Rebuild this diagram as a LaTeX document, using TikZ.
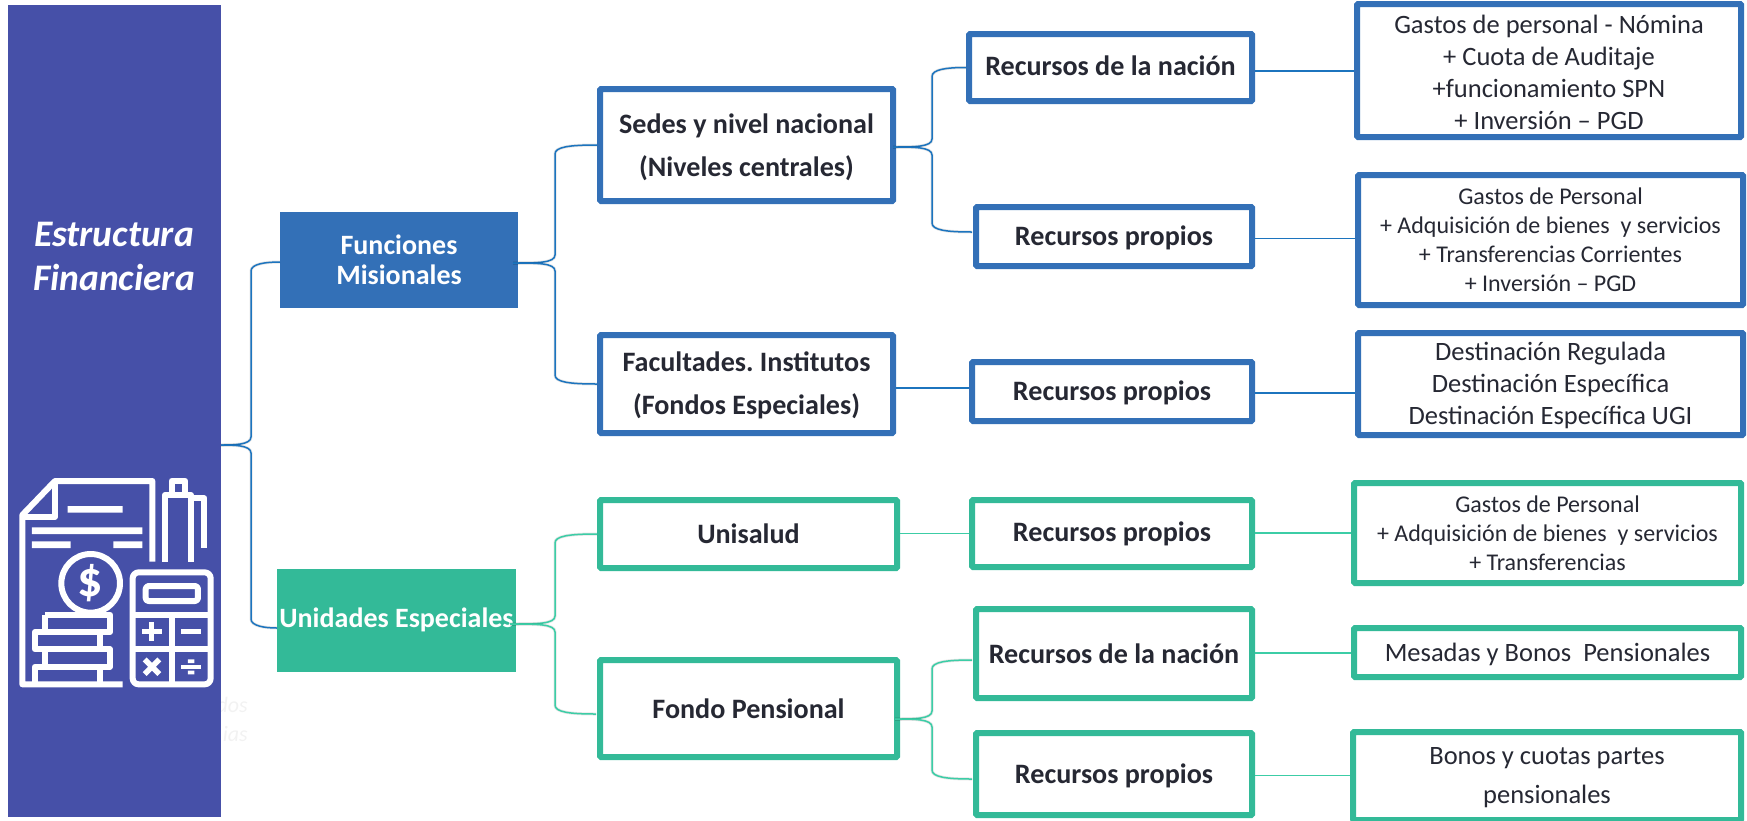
\documentclass[tikz,border=0pt]{standalone}
\usepackage{fontspec}
\setmainfont{Carlito}
\usetikzlibrary{calc}
\definecolor{purp}{HTML}{4650A8}
\definecolor{blu}{HTML}{3370B7}
\definecolor{teal1}{HTML}{33BA98}
\definecolor{cblu}{HTML}{1C74BE}
\definecolor{cteal}{HTML}{3CCDA6}
\definecolor{ink}{HTML}{262833}
\tikzset{
  x=1pt,y=-1pt,
  boxb/.style={draw=blu,line width=6pt,fill=white,inner sep=0pt,text=ink,align=center,rounded corners=1pt},
  boxt/.style={draw=teal1,line width=6pt,fill=white,inner sep=0pt,text=ink,align=center,rounded corners=1pt},
  mid/.style={font=\frenchspacing\fontsize{28.1}{43}\selectfont\bfseries},
  det/.style 2 args={font=\fontsize{#1}{#2}\selectfont},
  conb/.style={draw=cblu,line width=1.5pt},
  cont/.style={draw=cteal,line width=1.5pt},
  shad/.style={draw=black,opacity=.10,line width=3pt},
  icon/.style={draw=white,line width=6pt,line join=round},
  faint/.style={text=black!5,anchor=east,inner sep=0pt,font=\fontsize{22}{22}\selectfont\itshape},
}
% box frame, then its text set a little below the centre
\newcommand{\tsh}{-1.8}
\newcommand{\bx}[7]{%
  \node[#2,minimum width={#5-#3-4pt},minimum height={#6-#4-4pt},anchor=center] (#1) at ({(#3+#5)/2},{(#4+#6)/2}) {};
  \node[#2,draw=none,fill=none,anchor=center] (#1t) at ([yshift=\tsh pt]#1.center) {#7};}
\newcommand{\brc}[4]{%
  \foreach \st/\sh in {shad/3,#4/0}{%
  \draw[\st,yshift=-\sh pt] let \p1=(#1),\p2=(#2),\n1={ifthenelse(\y2<\y1,1,-1)} in
    (\p1) .. controls ({#3pt-18pt},\y1) and (#3pt,{\y1}) .. (#3pt,{\y1-\n1*8pt})
    -- (#3pt,{\y2+\n1*9pt}) .. controls (#3pt,{\y2+\n1*2pt}) and ({#3pt+14pt},\y2) .. (\p2);}}
\newcommand{\hcon}[4]{\draw[#4] (#1.east |- 0,#3) -- (#2.west |- 0,#3);}
\begin{document}
\begin{tikzpicture}
\useasboundingbox (0,0) rectangle (1747,820);
\node[faint] (f1) at (248,705) {dos};
\node[faint] (f2) at (248,734) {ias};
\node[fill=purp,draw=none,minimum width=213.5pt,minimum height=812pt,inner sep=0pt,anchor=north west] (left) at (7.5,5) {};
\node[text=white,align=center,font=\fontsize{37.5}{44}\selectfont\bfseries\itshape] (title) at (114,256) {Estructura\\Financiera};

% icon
\begin{scope}[shift={(0,440)},x=1pt/3,y=-1pt/3]
\draw[icon] (368,733) -- (67,733) -- (67,225) -- (165,123) -- (457,123) -- (457,365);
\draw[icon] (165,123) -- (165,230) -- (67,230);
\fill[white] (203,198) rectangle (368,218) (96,262) rectangle (427,282) (96,304) rectangle (212,324) (340,304) rectangle (427,324);
\draw[icon] (495,365) -- (495,165) -- (573,165) -- (573,365);
\draw[icon] (515,160) -- (515,122) -- (555,122) -- (555,160);
\draw[icon] (580,175) -- (613,175) -- (613,325);
\draw[icon] (272,430) circle[radius=88];
\node[text=white,font=\fontsize{50}{50}\selectfont\bfseries,inner sep=0pt] (dollar) at (272,430) {\$};
\draw[icon] (135,524) -- (330,524) -- (330,576) -- (105,576) -- (105,628) -- (330,628) -- (330,680) -- (105,680) -- (105,733);
\draw[icon] (135,524) -- (135,576) (135,628) -- (135,680) (300,576) -- (300,628) (300,680) -- (300,733);
\draw[icon,fill=purp,rounded corners=6pt] (398,397) rectangle (632,733);
\draw[icon,rounded corners=3pt] (437,438) rectangle (594,483);
\draw[icon] (398,524) -- (632,524) (398,628) -- (632,628) (515,524) -- (515,733);
\draw[white,line width=5pt] (427,575) -- (485,575) (456,546) -- (456,604);
\draw[white,line width=5pt] (544,575) -- (603,575);
\draw[white,line width=5.5pt] (434,658) -- (478,702) (478,658) -- (434,702);
\draw[white,line width=4pt] (544,680) -- (603,680);
\fill[white] (564,658) rectangle (583,669) (564,692) rectangle (583,703);
\end{scope}

% level 1
\node[fill=blu,minimum width=238pt,minimum height=96pt,inner sep=0pt,text=white,align=center,font=\fontsize{28}{30}\selectfont\bfseries] (fm) at (399,260) {Funciones\\Misionales};
\node[fill=teal1,minimum width=239pt,minimum height=103pt,inner sep=0pt,text=white,align=center,font=\fontsize{28}{30}\selectfont\bfseries] (ue) at (396.5,620) {Unidades Especiales};

% level 2
\bx{sedes}{boxb,mid}{598}{87}{895}{203}{Sedes y nivel nacional\\(Niveles centrales)}
\bx{facu}{boxb,mid}{598}{333}{895}{435}{Facultades. Institutos\\(Fondos Especiales)}
\renewcommand{\tsh}{0}
\bx{unis}{boxt,mid}{598}{498}{899}{570}{Unisalud}
\bx{fondo}{boxt,mid}{598}{658}{899}{759}{Fondo Pensional}

% level 3
\renewcommand{\tsh}{1.5}
\bx{rn1}{boxb,mid}{967}{32}{1254}{103}{Recursos de la nación}
\renewcommand{\tsh}{-1.8}
\bx{rp1}{boxb,mid}{974}{205}{1254}{268}{Recursos propios}
\bx{rp2}{boxb,mid}{970}{360}{1254}{423}{Recursos propios}
\renewcommand{\tsh}{0}
\bx{rp3}{boxt,mid}{970}{498}{1254}{569}{Recursos propios}
\bx{rn2}{boxt,mid}{974}{607}{1254}{700}{Recursos de la nación}
\renewcommand{\tsh}{-1.8}
\bx{rp4}{boxt,mid}{974}{731}{1254}{817}{Recursos propios}

% level 4
\bx{d1}{boxb,det={26.5}{32}}{1355}{2}{1743}{139}{Gastos de personal - Nómina\\+ Cuota de Auditaje\\+funcionamiento SPN\\+ Inversión – PGD}
\renewcommand{\tsh}{0}
\bx{d2}{boxb,det={24}{29}}{1356}{173}{1745}{307}{Gastos de Personal\\+ Adquisición de bienes\ \ y servicios\\+ Transferencias Corrientes\\+ Inversión – PGD}
\renewcommand{\tsh}{-1.8}
\bx{d3}{boxb,det={26.5}{32}}{1356}{331}{1745}{437}{Destinación Regulada\\Destinación Específica\\Destinación Específica UGI}
\renewcommand{\tsh}{0}
\bx{d4}{boxt,det={24}{29}}{1352}{481}{1743}{585}{Gastos de Personal\\+ Adquisición de bienes\ \ y servicios\\+ Transferencias}
\renewcommand{\tsh}{-1.8}
\bx{d5}{boxt,det={26.5}{32}}{1352}{626}{1743}{679}{Mesadas y Bonos\ \ Pensionales}
\bx{d6}{boxt,det={26.5}{39}}{1351}{730}{1743}{822}{Bonos y cuotas partes\\pensionales}

% connectors
\coordinate (ls) at (221,445);
\coordinate (fmin) at (280,262);
\coordinate (uein) at (277,628);
\coordinate (fmo) at (513,263);
\coordinate (ueo) at (510,624);
\coordinate (sedo) at (893,147);
\coordinate (fono) at (895,719);
\coordinate (fondoin) at (596,714);
\coordinate (rp1in) at (972,232);
\coordinate (rn2in) at (972,660);
\coordinate (rp4in) at (972,779);
\brc{ls}{fmin}{251}{conb}
\brc{ls}{uein}{251}{conb}
\brc{fmo}{sedes.west}{555}{conb}
\brc{fmo}{facu.west}{555}{conb}
\brc{ueo}{unis.west}{555}{cont}
\brc{ueo}{fondoin}{555}{cont}
\brc{sedo}{rn1.west}{932}{conb}
\brc{sedo}{rp1in}{932}{conb}
\brc{fono}{rn2in}{932}{cont}
\brc{fono}{rp4in}{932}{cont}
\hcon{facu}{rp2}{388}{conb}
\hcon{unis}{rp3}{533.5}{cont}
\hcon{rn1}{d1}{71}{conb}
\hcon{rp1}{d2}{238.5}{conb}
\hcon{rp2}{d3}{393}{conb}
\hcon{rp3}{d4}{533}{cont}
\hcon{rn2}{d5}{653}{cont}
\hcon{rp4}{d6}{775.5}{cont}
\end{tikzpicture}
\end{document}
